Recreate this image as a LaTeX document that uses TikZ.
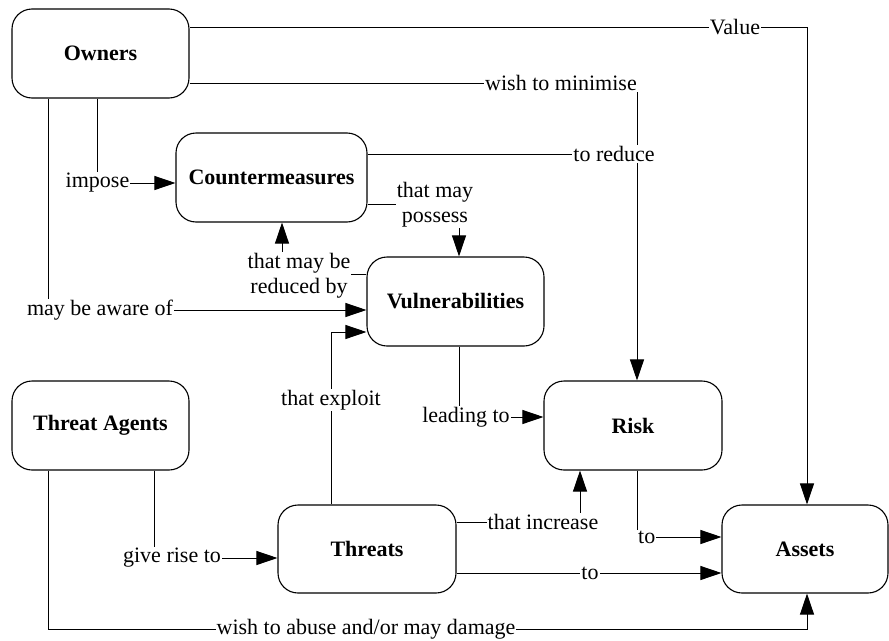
\documentclass[tikz,border=0pt]{standalone}
\usepackage{fontspec}
\setmainfont{Liberation Serif}
\usetikzlibrary{arrows.meta}

\tikzset{
  entity/.style={draw, line width=1.1pt, rounded corners=20pt, minimum height=89pt,
                 font=\fontsize{22}{25}\selectfont\bfseries},
  relation/.style={fill=white, inner sep=1pt, align=center,
                   font=\fontsize{22}{25}\selectfont},
  link/.style={line width=0.9pt},
  arrowlink/.style={link, -{Triangle[length=21pt,width=14pt]}},
}

\begin{document}
\begin{tikzpicture}[x=1pt,y=-1pt]
\useasboundingbox (0,0) rectangle (889,640);

% entities
\node[entity, minimum width=177pt] (owners)  at (100.5,53.5)  {Owners};
\node[entity, minimum width=191pt] (counter) at (271.5,177.5) {Countermeasures};
\node[entity, minimum width=177pt] (vuln)    at (455.5,301.5) {Vulnerabilities};
\node[entity, minimum width=177pt] (agents)  at (100.5,425.5) {Threat Agents};
\node[entity, minimum width=178pt] (risk)    at (633,425.5)   {Risk};
\node[entity, minimum width=178pt, minimum height=88pt] (threats) at (367,549) {Threats};
\node[entity, minimum width=166pt, minimum height=88pt] (assets)  at (805,549) {Assets};

% routing corners
\coordinate (cV) at (807,27);
\coordinate (cW) at (637,83);
\coordinate (cR) at (637,154);
\coordinate (cI) at (97,183);
\coordinate (cA) at (48,310);
\coordinate (cP) at (459,204);
\coordinate (cB) at (282,274);
\coordinate (cL) at (459,417);
\coordinate (cE) at (331,332);
\coordinate (cG) at (154,558);
\coordinate (cD1) at (48,629);
\coordinate (cD2) at (807,629);
\coordinate (cN) at (580,522);
\coordinate (cT) at (637,537);
\coordinate (cU) at (590,573);

% connectors
\draw[arrowlink] (owners.east |- cV) -- (cV) -- (assets.north -| cV);
\draw[arrowlink] (owners.east |- cW) -- (cW) -- (risk.north -| cW);
\draw[link] (counter.east |- cR) -- (cR);
\draw[arrowlink] (owners.south -| cI) -- (cI) -- (counter.west |- cI);
\draw[arrowlink] (owners.south -| cA) -- (cA) -- (vuln.west |- cA);
\draw[arrowlink] (counter.east |- cP) -- (cP) -- (vuln.north -| cP);
\draw[arrowlink] (vuln.west |- cB) -- (cB) -- (counter.south -| cB);
\draw[arrowlink] (vuln.south -| cL) -- (cL) -- (risk.west |- cL);
\draw[arrowlink] (threats.north -| cE) -- (cE) -- (vuln.west |- cE);
\draw[arrowlink] (agents.south -| cG) -- (cG) -- (threats.west |- cG);
\draw[arrowlink] (agents.south -| cD1) -- (cD1) -- (cD2) -- (assets.south -| cD2);
\draw[arrowlink] (threats.east |- cN) -- (cN) -- (risk.south -| cN);
\draw[arrowlink] (risk.south -| cT) -- (cT) -- (assets.west |- cT);
\draw[arrowlink] (threats.east |- cU) -- (assets.west |- cU);

% relation labels
\node[relation] (lValue)    at (735,27)  {Value};
\node[relation] (lMinimise) at (561,83)  {wish to minimise};
\node[relation] (lReduce)   at (614,154) {to reduce};
\node[relation] (lImpose)   at (97.5,183) {impose};
\node[relation] (lAware)    at (100,310) {may be aware of};
\node[relation] (lPossess)  at (435,205) {that may\\possess};
\node[relation] (lReduced)  at (299,276) {that may be\\reduced by};
\node[relation] (lLeading)  at (466,417) {leading to};
\node[relation] (lExploit)  at (331,400) {that exploit};
\node[relation] (lRise)     at (172,558) {give rise to};
\node[relation] (lAbuse)    at (366,629) {wish to abuse and/or may damage};
\node[relation] (lIncrease) at (543,522) {that increase};
\node[relation, anchor=west] (lTo1) at (637,537) {to};
\node[relation] (lTo2)      at (590,573) {to};
\end{tikzpicture}
\end{document}
